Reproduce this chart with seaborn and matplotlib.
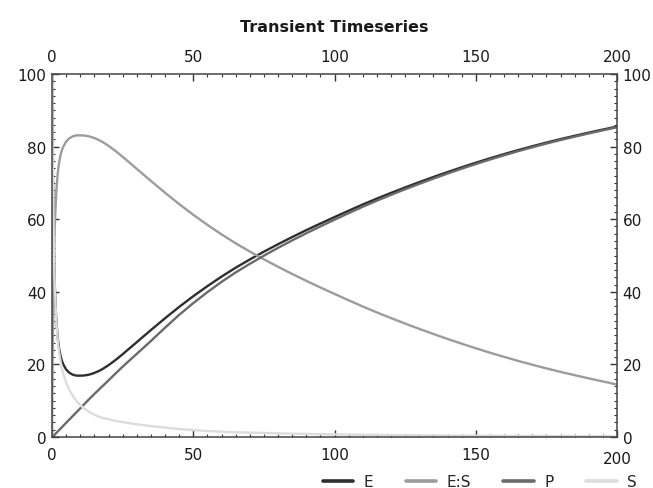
import matplotlib
matplotlib.use("Agg")
import matplotlib.pyplot as plt
from matplotlib.ticker import MultipleLocator
from matplotlib.transforms import ScaledTranslation
import pandas as pd
import seaborn as sns

# time points (denser where the curves bend fast)
t = [0, 0.1, 0.25, 0.5, 0.75, 1, 1.5, 2, 2.5, 3, 3.5, 4, 5, 6, 7, 8, 9, 10,
     11, 12, 13, 14, 15, 16, 17, 18, 20, 22.5, 25, 27.5, 30, 35, 40, 45, 50,
     55, 60, 65, 70, 75, 80, 85, 90, 95, 100, 105, 110, 115, 120, 125, 130,
     135, 140, 145, 150, 155, 160, 165, 170, 175, 180, 185, 190, 195, 200]

e = [100, 89, 76, 60, 49, 41.5, 32.5, 27.5, 24.4, 22.4, 21.0, 20.0, 18.6,
     17.8, 17.3, 17.0, 16.9, 16.9, 16.93, 17.02, 17.17, 17.38, 17.65, 17.98,
     18.35, 18.78, 19.78, 21.22, 22.8, 24.46, 26.13, 29.45, 32.7, 35.83,
     38.78, 41.55, 44.18, 46.63, 48.9, 51.05, 53.1, 55.08, 56.98, 58.8,
     60.58, 62.33, 64.05, 65.68, 67.24, 68.75, 70.21, 71.62, 72.98, 74.29,
     75.55, 76.77, 77.92, 79.04, 80.09, 81.1, 82.06, 82.97, 83.85, 84.7,
     85.52]

es = [0, 11, 24, 40, 51, 58.5, 67.5, 72.5, 75.6, 77.6, 79.0, 80.0, 81.4,
      82.2, 82.7, 83.0, 83.1, 83.1, 83.07, 82.98, 82.83, 82.62, 82.35,
      82.02, 81.65, 81.22, 80.22, 78.78, 77.2, 75.54, 73.87, 70.55, 67.3,
      64.17, 61.22, 58.45, 55.82, 53.37, 51.1, 48.95, 46.9, 44.92, 43.02,
      41.2, 39.42, 37.67, 35.95, 34.32, 32.76, 31.25, 29.79, 28.38, 27.02,
      25.71, 24.45, 23.23, 22.08, 20.96, 19.91, 18.9, 17.94, 17.03, 16.15,
      15.3, 14.48]

p = [0, 0.02, 0.08, 0.25, 0.45, 0.7, 1.1, 1.5, 1.9, 2.3, 2.7, 3.1, 3.9,
     4.7, 5.5, 6.3, 7.1, 7.9, 8.7, 9.5, 10.3, 11.1, 11.85, 12.6, 13.35,
     14.1, 15.6, 17.5, 19.35, 21.15, 22.9, 26.45, 30.1, 33.63, 36.88,
     39.9, 42.73, 45.33, 47.7, 49.95, 52.1, 54.16, 56.13, 58.02, 59.86,
     61.66, 63.43, 65.1, 66.7, 68.25, 69.74, 71.18, 72.57, 73.91, 75.19,
     76.43, 77.6, 78.74, 79.81, 80.84, 81.81, 82.73, 83.63, 84.49, 85.32]

s = [100, 89, 76, 59.9, 48.8, 41.2, 32.0, 26.8, 23.4, 21.0, 19.0, 17.4,
     15.0, 13.2, 11.8, 10.6, 9.6, 8.8, 8.1, 7.5, 7.0, 6.55, 6.15, 5.8, 5.5,
     5.25, 4.9, 4.45, 4.1, 3.8, 3.5, 3.0, 2.6, 2.2, 1.9, 1.65, 1.45, 1.3,
     1.2, 1.1, 1.0, 0.92, 0.85, 0.78, 0.72, 0.67, 0.62, 0.58, 0.54, 0.5,
     0.47, 0.44, 0.41, 0.38, 0.36, 0.34, 0.32, 0.3, 0.28, 0.26, 0.25, 0.24,
     0.22, 0.21, 0.2]

species = ["E", "E:S", "P", "S"]
colors = {"E": "#2e2e2e", "E:S": "#9c9c9c", "P": "#6a6a6a", "S": "#dcdcdc"}
x_ticks = [0, 50, 100, 150, 200]
y_ticks = [0, 20, 40, 60, 80, 100]

df = pd.concat([
    pd.DataFrame({"t": t, "value": v, "species": name})
    for name, v in zip(species, [e, es, p, s])
])

sns.set_style("ticks")
plt.rcParams["font.family"] = ["DejaVu Sans"]

fig = plt.figure(figsize=(6.53, 4.89), dpi=100)
ax = fig.add_axes([52 / 653, 1 - 438 / 489, 565 / 653, 363 / 489])

sns.lineplot(data=df, x="t", y="value", hue="species", hue_order=species,
             palette=colors, linewidth=1.7, ax=ax, legend=True, sort=False)

ax.set_xlim(0, 200)
ax.set_ylim(0, 100)
ax.set_xlabel("")
ax.set_ylabel("")
ax.set_xticks(x_ticks)
ax.set_yticks(y_ticks)
ax.xaxis.set_minor_locator(MultipleLocator(5))
ax.yaxis.set_minor_locator(MultipleLocator(2))
ax.tick_params(which="both", direction="in", top=True, right=True,
               labeltop=True, labelright=True, colors="#333333",
               labelsize=11, labelcolor="#1a1a1a")
ax.tick_params(which="major", length=5, width=1)
ax.tick_params(which="minor", length=2.5, width=0.8)
ax.tick_params(axis="x", which="major", pad=7)
ax.tick_params(axis="y", which="major", pad=4)
for sp in ax.spines.values():
    sp.set_visible(True)
    sp.set_color("#444444")
    sp.set_linewidth(1.1)

# bottom "200" sits a little lower than the other bottom labels
last = ax.xaxis.get_major_ticks()[-1]
last.label1.set_transform(last.label1.get_transform()
                          + ScaledTranslation(0, -4 / 100, fig.dpi_scale_trans))

fig.text(334 / 653, 1 - 28 / 489, "Transient Timeseries", ha="center",
         va="center", fontsize=11.5, fontweight="bold", color="#1a1a1a")

handles, labels = ax.get_legend_handles_labels()
ax.get_legend().remove()
leg = fig.legend(handles, labels, loc="center right",
                 bbox_to_anchor=(637 / 653, 1 - 483 / 489), ncol=4,
                 frameon=False, fontsize=11, handlelength=2.0,
                 columnspacing=2.1, handletextpad=0.7, borderpad=0,
                 borderaxespad=0)
for line in leg.get_lines():
    line.set_linewidth(2.6)

fig.savefig("out.png", dpi=100)
